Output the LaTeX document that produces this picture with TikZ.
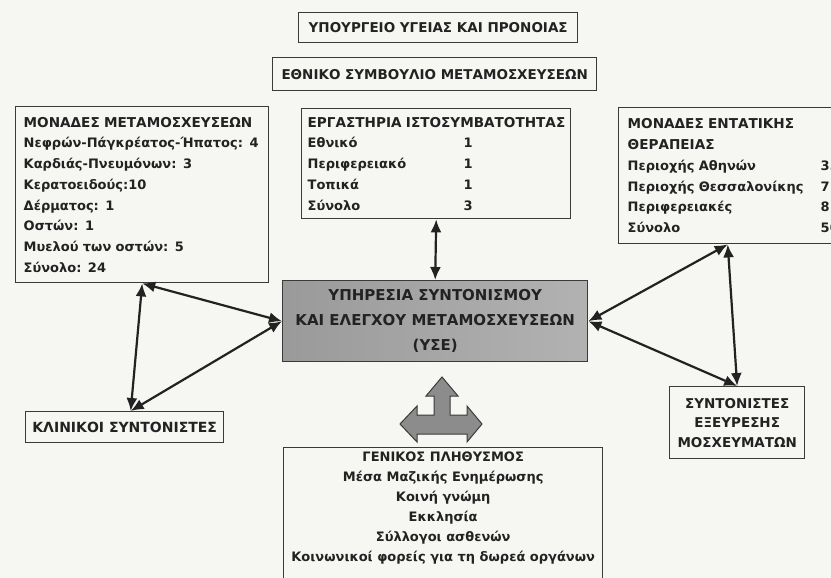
\documentclass[tikz,border=0pt]{standalone}
\usepackage{fontspec}
\setmainfont{DejaVu Sans}
\usetikzlibrary{arrows.meta}
\definecolor{ink}{HTML}{222222}
\definecolor{boxline}{HTML}{3A3A3A}
\definecolor{paper}{HTML}{F6F6F3}
\definecolor{coreleft}{HTML}{9A9A9A}
\definecolor{coreright}{HTML}{B2B2B2}
\definecolor{trifill}{HTML}{8C8C8C}
\tikzset{
  box/.style={draw=boxline, line width=1.4pt, fill=paper, anchor=north west,
    inner sep=0pt, text=ink, font=\fontsize{13}{20.7}\selectfont\bfseries},
  capsbox/.style={box, font=\fontsize{13.5}{16}\selectfont\bfseries},
  link/.style={draw=ink, line width=2.2pt,
    {Latex[length=13pt,width=11pt]}-{Latex[length=13pt,width=11pt]}},
}
\newcommand{\numcol}[2]{\makebox[#1][l]{#2}}
\newcommand{\headline}[1]{\mbox{\fontsize{13.6}{20.7}\selectfont #1}}
\begin{document}
\begin{tikzpicture}[x=1pt,y=-1pt]
  \useasboundingbox (0,0) rectangle (831,578);
  \fill[paper] (0,0) rectangle (831,578);
  \clip (0,0) rectangle (831,578);

  % ministry and national council
  \node[capsbox, minimum width=279pt, minimum height=30pt] (ministry) at (298,12)
    {ΥΠΟΥΡΓΕΙΟ ΥΓΕΙΑΣ ΚΑΙ ΠΡΟΝΟΙΑΣ};
  \node[capsbox, minimum width=324pt, minimum height=33pt] (council) at (272,57)
    {ΕΘΝΙΚΟ ΣΥΜΒΟΥΛΙΟ ΜΕΤΑΜΟΣΧΕΥΣΕΩΝ};

  % transplant units
  \node[box, minimum height=176pt, inner xsep=8pt, text width=237pt, align=left]
    (units) at (15,106)
    {\headline{ΜΟΝΑΔΕΣ ΜΕΤΑΜΟΣΧΕΥΣΕΩΝ}\\
     Νεφρών-Πάγκρέατος-Ήπατος: 4\\
     Καρδιάς-Πνευμόνων: 3\\
     Κερατοειδούς:10\\
     Δέρματος: 1\\
     Οστών: 1\\
     Μυελού των οστών: 5\\
     Σύνολο: 24};

  % histocompatibility labs
  \node[box, minimum height=110pt, inner xsep=6pt, text width=257pt, align=left]
    (labs) at (301,108)
    {\headline{ΕΡΓΑΣΤΗΡΙΑ ΙΣΤΟΣΥΜΒΑΤΟΤΗΤΑΣ}\\
     \numcol{156pt}{Εθνικό}1\\
     \numcol{156pt}{Περιφερειακό}1\\
     \numcol{156pt}{Τοπικά}1\\
     \numcol{156pt}{Σύνολο}3};

  % intensive care units
  \node[box, minimum height=136pt, inner xsep=9pt, text width=200pt, align=left]
    (icu) at (618,107)
    {\headline{ΜΟΝΑΔΕΣ ΕΝΤΑΤΙΚΗΣ}\\
     \headline{ΘΕΡΑΠΕΙΑΣ}\\
     \numcol{193pt}{Περιοχής Αθηνών}35\\
     \numcol{193pt}{Περιοχής Θεσσαλονίκης}7\\
     \numcol{193pt}{Περιφερειακές}8\\
     \numcol{193pt}{Σύνολο}50};

  % central service
  \node[box, draw=boxline, left color=coreleft, right color=coreright,
    minimum width=305pt, minimum height=81pt, align=center,
    font=\fontsize{15}{25}\selectfont\bfseries] (yse) at (282,280)
    {ΥΠΗΡΕΣΙΑ ΣΥΝΤΟΝΙΣΜΟΥ\\ ΚΑΙ ΕΛΕΓΧΟΥ ΜΕΤΑΜΟΣΧΕΥΣΕΩΝ\\ (ΥΣΕ)};

  % coordinators
  \node[capsbox, minimum width=198pt, minimum height=31pt,
    font=\fontsize{14}{16}\selectfont\bfseries] (clinic) at (25,411)
    {ΚΛΙΝΙΚΟΙ ΣΥΝΤΟΝΙΣΤΕΣ};
  \node[capsbox, minimum width=135pt, minimum height=72pt, align=center,
    font=\fontsize{13.5}{19.5}\selectfont\bfseries] (finders) at (669,386)
    {ΣΥΝΤΟΝΙΣΤΕΣ\\ ΕΞΕΥΡΕΣΗΣ\\ ΜΟΣΧΕΥΜΑΤΩΝ};

  % general public
  \node[box, minimum width=319pt, minimum height=160pt, align=center,
    font=\fontsize{13}{20}\selectfont\bfseries] (public) at (283,447)
    {ΓΕΝΙΚΟΣ ΠΛΗΘΥΣΜΟΣ\\
     Μέσα Μαζικής Ενημέρωσης\\
     Κοινή γνώμη\\
     Εκκλησία\\
     Σύλλογοι ασθενών\\
     Κοινωνικοί φορείς για τη δωρεά οργάνων\\[22pt]};

  % three-way block arrow
  \draw[fill=trifill, draw=boxline, line width=1pt, line join=miter]
    (442,377) -- (458,396) -- (450,396) -- (450,415) -- (467,415) -- (467,406)
    -- (482,424) -- (467,442) -- (467,434) -- (417,434) -- (417,442)
    -- (400,424) -- (417,406) -- (417,415) -- (434,415) -- (434,396)
    -- (426,396) -- cycle;

  % connectors
  \draw[link] (labs.south) -- (yse.north);
  \draw[link] (units.south) -- (yse.west);
  \draw[link] (units.south) -- ([xshift=6pt]clinic.north);
  \draw[link] (yse.west) -- ([xshift=6pt]clinic.north);
  \draw[link] (yse.east) -- (icu.south);
  \draw[link] (yse.east) -- (finders.north);
  \draw[link] (icu.south) -- (finders.north);
\end{tikzpicture}
\end{document}
